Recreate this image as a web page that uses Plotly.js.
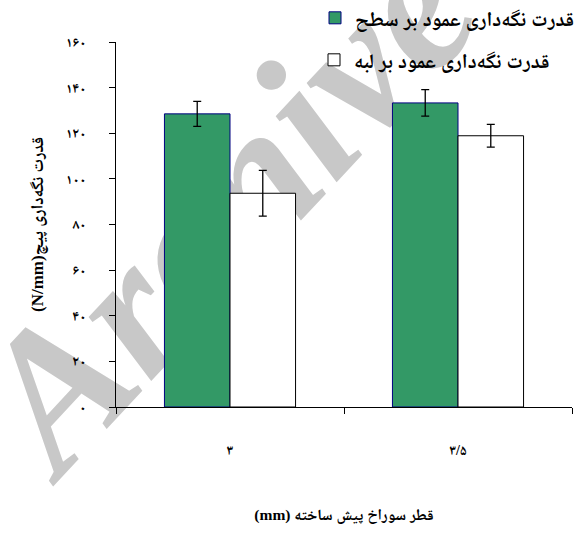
<!DOCTYPE html>
<html>
<head>
<meta charset="utf-8">
<script src="https://cdn.plot.ly/plotly-3.0.1.min.js"></script>
<style>html,body{margin:0;padding:0;background:#fff}</style>
</head>
<body>
<div id="chart" style="width:587px;height:538px"></div>
<script>
// Pre-drilled hole diameter (mm)
const categories = ['۳', '۳/۵'];

// Screw holding strength (N/mm), face-perpendicular vs edge-perpendicular
const surfaceName = 'قدرت نگه‌داری عمود بر سطح';
const surfaceMeans = [128.5, 133.3];
const surfaceErrors = [5.5, 5.8];

const edgeName = 'قدرت نگه‌داری عمود بر لبه';
const edgeMeans = [93.7, 118.9];
const edgeErrors = [10, 5];

const yTickValues = [0, 20, 40, 60, 80, 100, 120, 140, 160];
const yTickLabels = ['۰', '۲۰', '۴۰', '۶۰', '۸۰', '۱۰۰', '۱۲۰', '۱۴۰', '۱۶۰'];

const xTitle = '\u202Bقطر سوراخ پیش ساخته (mm)\u202C';
const yTitle = '\u202Bقدرت نگه‌داری پیچ(N/mm)\u202C';
const watermark = 'Archive of SID';

const FONT = "'Liberation Serif', 'Noto Naskh Arabic', 'Noto Sans Arabic', 'DejaVu Sans', serif";

// plot area in pixels, used to place paper-referenced items
const PLOT = { left: 116, width: 456, bottom: 407, height: 365 };
const px = (x) => (x - PLOT.left) / PLOT.width;
const py = (y) => (PLOT.bottom - y) / PLOT.height;

const traces = [
  {
    type: 'bar',
    name: surfaceName,
    legend: 'legend',
    x: categories,
    y: surfaceMeans,
    marker: { color: '#339966', line: { color: '#000080', width: 1 } },
    error_y: { type: 'data', array: surfaceErrors, color: '#000', thickness: 1.3, width: 4 }
  },
  {
    type: 'bar',
    name: edgeName,
    legend: 'legend2',
    x: categories,
    y: edgeMeans,
    marker: { color: '#ffffff', line: { color: '#000000', width: 1 } },
    error_y: { type: 'data', array: edgeErrors, color: '#000', thickness: 1.3, width: 4 }
  }
];

const legendFont = { family: FONT, size: 20.5, weight: 'bold', color: '#000' };

const layout = {
  width: 587,
  height: 538,
  margin: { l: 116, r: 15, t: 42, b: 131, autoexpand: false },
  paper_bgcolor: '#ffffff',
  plot_bgcolor: 'rgba(0,0,0,0)',
  font: { family: FONT, color: '#000', size: 13 },
  barmode: 'group',
  bargap: 0.425,
  bargroupgap: 0,
  showlegend: true,
  legend: {
    x: px(315), y: py(-2), xanchor: 'left', yanchor: 'top',
    bgcolor: 'rgba(0,0,0,0)', font: legendFont
  },
  legend2: {
    x: px(314), y: py(40), xanchor: 'left', yanchor: 'top',
    bgcolor: 'rgba(0,0,0,0)', font: legendFont
  },
  xaxis: {
    type: 'category',
    range: [-0.5, 1.5],
    showline: true, linecolor: '#000', linewidth: 1,
    ticks: 'outside', ticklen: 6, tickcolor: '#000', tickwidth: 1,
    tickson: 'boundaries',
    ticklabelstandoff: 30,
    tickfont: { family: FONT, size: 14, weight: 'bold' },
    showgrid: false, zeroline: false,
    title: { text: xTitle, standoff: 52, font: { family: FONT, size: 15.5, weight: 'bold' } }
  },
  yaxis: {
    range: [0, 160],
    tickvals: yTickValues,
    ticktext: yTickLabels,
    showline: true, linecolor: '#000', linewidth: 1,
    ticks: 'outside', ticklen: 6, tickcolor: '#000', tickwidth: 1,
    ticklabelstandoff: 20,
    tickfont: { family: FONT, size: 14, weight: 'bold' },
    showgrid: false, zeroline: false,
    title: { text: yTitle, standoff: 17, font: { family: FONT, size: 17, weight: 'bold' } }
  },
  shapes: [
    {
      // faint diagonal watermark behind the bars
      type: 'line', layer: 'below',
      xref: 'paper', yref: 'paper',
      x0: px(360), y0: py(30),
      x1: px(460), y1: py(-78),
      line: { width: 0, color: 'rgba(0,0,0,0)' },
      label: {
        text: '<i>' + watermark + '</i>',
        textposition: 'middle',
        textangle: -47,
        xanchor: 'center', yanchor: 'middle',
        padding: 0,
        font: { family: "'Liberation Serif', serif", size: 195, weight: 'bold', color: '#c8c8c8' }
      }
    }
  ]
};

Plotly.newPlot('chart', traces, layout, { displayModeBar: false, staticPlot: true });
</script>
</body>
</html>
